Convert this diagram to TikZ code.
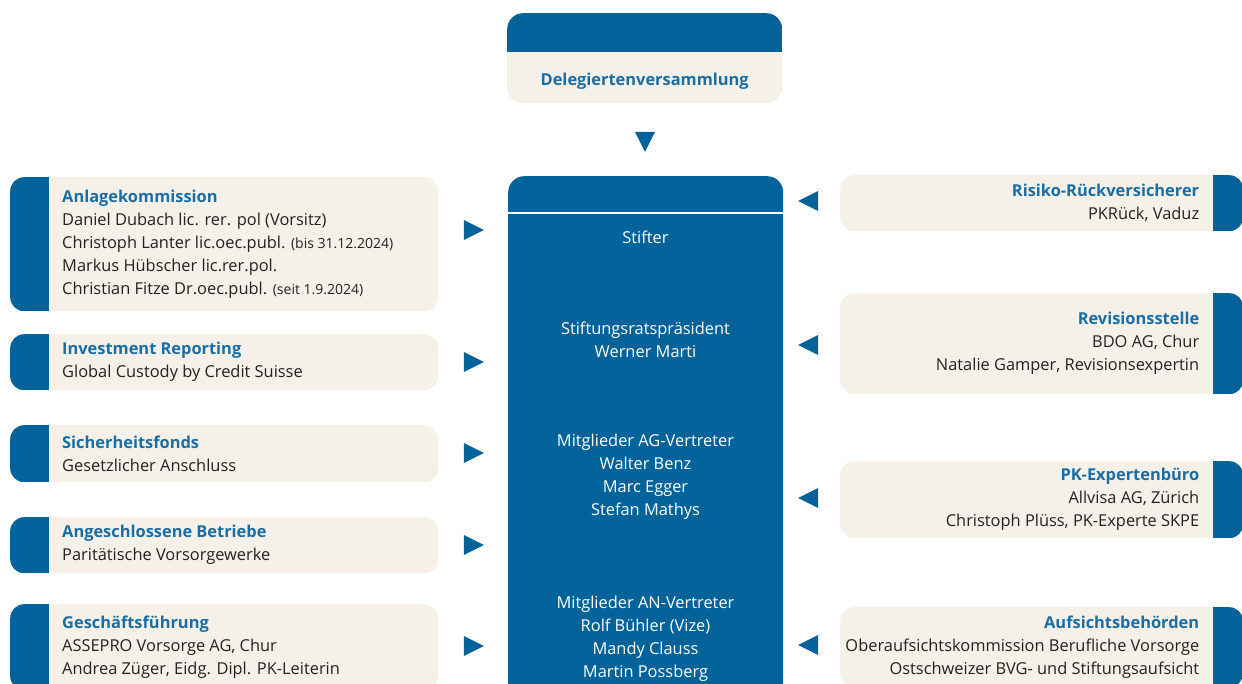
\documentclass[tikz,border=0pt]{standalone}
\usepackage{fontspec}
\setmainfont{Open Sans}
\usetikzlibrary{shapes.geometric}

\newlength{\du}
\setlength{\du}{1pt}

\definecolor{boxblue}{rgb}{0.003922, 0.388235, 0.603922}
\definecolor{boxbeige}{rgb}{0.960784, 0.945098, 0.909804}
\definecolor{titleblue}{rgb}{0.101961, 0.431373, 0.647059}
\definecolor{bodytext}{rgb}{0.133333, 0.133333, 0.133333}

\newcommand{\titel}[1]{\textcolor{titleblue}{\textbf{#1}}}
\newcommand{\klein}[1]{{\fontsize{14}{23}\selectfont #1}}

\tikzset{
  leftbox/.style={fill=boxbeige, rounded corners=14\du, anchor=north west,
    minimum width=428\du, inner sep=0pt,
    path picture={\fill[boxblue, sharp corners] (path picture bounding box.south west)
      rectangle ([xshift=39\du]path picture bounding box.north west);}},
  rightbox/.style={fill=boxbeige, rounded corners=14\du, anchor=north west,
    minimum width=403\du, inner sep=0pt,
    path picture={\fill[boxblue, sharp corners] (path picture bounding box.south east)
      rectangle ([xshift=-30\du]path picture bounding box.north east);}},
  lefttext/.style={anchor=west, align=left, inner sep=0pt, text=bodytext,
    font=\fontsize{16.4}{23}\selectfont},
  righttext/.style={anchor=east, align=right, inner sep=0pt, text=bodytext,
    font=\fontsize{16.4}{23}\selectfont},
  midtext/.style={align=center, inner sep=0pt, text=white,
    font=\fontsize{16.4}{23}\selectfont},
  pfeil/.style={shape=isosceles triangle, isosceles triangle stretches,
    fill=boxblue, minimum width=20\du, minimum height=20\du, inner sep=0pt}
}

\begin{document}
\begin{tikzpicture}[x=1\du, y=-1\du]
\useasboundingbox (0,0) rectangle (1242,684);

% Delegiertenversammlung
\node[fill=boxbeige, rounded corners=16\du, anchor=north west, inner sep=0pt,
  minimum width=275\du, minimum height=90\du,
  path picture={\fill[boxblue, sharp corners] (path picture bounding box.north west)
    rectangle ([yshift=-39\du]path picture bounding box.north east);}]
  (delegierte) at (507,13) {};
\node[midtext, text=titleblue, font=\fontsize{16.4}{23}\selectfont\bfseries]
  (delegiertetext) at ([yshift=22\du]delegierte.south) {Delegiertenversammlung};
\node[pfeil, shape border rotate=-90] (pfeilab) at (645,138) {};

% Stiftungsrat
\node[fill=boxblue, rounded corners=16\du, anchor=north west, inner sep=0pt,
  minimum width=275\du, minimum height=530\du] (stiftungsrat) at (508,176) {};
\draw[white, line width=1.5\du] ([yshift=-37\du]stiftungsrat.north west)
  -- ([yshift=-37\du]stiftungsrat.north east);
\node[midtext] (stifter) at (645.5,237) {Stifter};
\node[midtext] (praesident) at (645.5,340) {Stiftungsratspräsident\\Werner Marti};
\node[midtext] (agvertreter) at (645.5,477) {Mitglieder AG-Vertreter\\Walter Benz\\Marc Egger\\Stefan Mathys};
\node[midtext] (anvertreter) at (645.5,638.5) {Mitglieder AN-Vertreter\\Rolf Bühler (Vize)\\Mandy Clauss\\Martin Possberg};

% linke Seite
\node[leftbox, minimum height=134\du] (anlage) at (10,177) {};
\node[lefttext] (anlagetext) at ([xshift=52\du]anlage.west)
  {\titel{Anlagekommission}\\Daniel Dubach lic. rer. pol (Vorsitz)\\
   Christoph Lanter lic.oec.publ. \klein{(bis 31.12.2024)}\\
   Markus Hübscher lic.rer.pol.\\
   Christian Fitze Dr.oec.publ. \klein{(seit 1.9.2024)}};
\node[pfeil] (pfeil1) at (470,230) {};

\node[leftbox, minimum height=56\du] (reporting) at (10,334) {};
\node[lefttext] (reportingtext) at ([xshift=52\du]reporting.west)
  {\titel{Investment Reporting}\\Global Custody by Credit Suisse};
\node[pfeil] (pfeil2) at (470,362) {};

\node[leftbox, minimum height=57\du] (fonds) at (10,425) {};
\node[lefttext] (fondstext) at ([xshift=52\du]fonds.west)
  {\titel{Sicherheitsfonds}\\Gesetzlicher Anschluss};
\node[pfeil] (pfeil3) at (470,453) {};

\node[leftbox, minimum height=56\du] (betriebe) at (10,517) {};
\node[lefttext] (betriebetext) at ([xshift=52\du]betriebe.west)
  {\titel{Angeschlossene Betriebe}\\Paritätische Vorsorgewerke};
\node[pfeil] (pfeil4) at (470,545) {};

\node[leftbox, minimum height=86\du] (geschaeft) at (10,604) {};
\node[lefttext] (geschaefttext) at ([xshift=52\du]geschaeft.west)
  {\titel{Geschäftsführung}\\ASSEPRO Vorsorge AG, Chur\\Andrea Züger, Eidg. Dipl. PK-Leiterin};
\node[pfeil] (pfeil5) at (470,646) {};

% rechte Seite
\node[rightbox, minimum height=56\du] (risiko) at (840,175) {};
\node[righttext] (risikotext) at ([xshift=-44\du]risiko.east)
  {\titel{Risiko-Rückversicherer}\\PKRück, Vaduz};
\node[pfeil, shape border rotate=180] (pfeil6) at (812,201) {};

\node[rightbox, minimum height=101\du] (revision) at (840,293) {};
\node[righttext] (revisiontext) at ([xshift=-44\du]revision.east)
  {\titel{Revisionsstelle}\\BDO AG, Chur\\Natalie Gamper, Revisionsexpertin};
\node[pfeil, shape border rotate=180] (pfeil7) at (812,345) {};

\node[rightbox, minimum height=77\du] (experte) at (840,461) {};
\node[righttext] (expertetext) at ([xshift=-44\du]experte.east)
  {\titel{PK-Expertenbüro}\\Allvisa AG, Zürich\\Christoph Plüss, PK-Experte SKPE};
\node[pfeil, shape border rotate=180] (pfeil8) at (812,498) {};

\node[rightbox, minimum height=80\du] (aufsicht) at (840,607) {};
\node[righttext] (aufsichttext) at ([xshift=-44\du]aufsicht.east)
  {\titel{Aufsichtsbehörden}\\Oberaufsichtskommission Berufliche Vorsorge\\Ostschweizer BVG- und Stiftungsaufsicht};
\node[pfeil, shape border rotate=180] (pfeil9) at (812,645) {};
\end{tikzpicture}
\end{document}
